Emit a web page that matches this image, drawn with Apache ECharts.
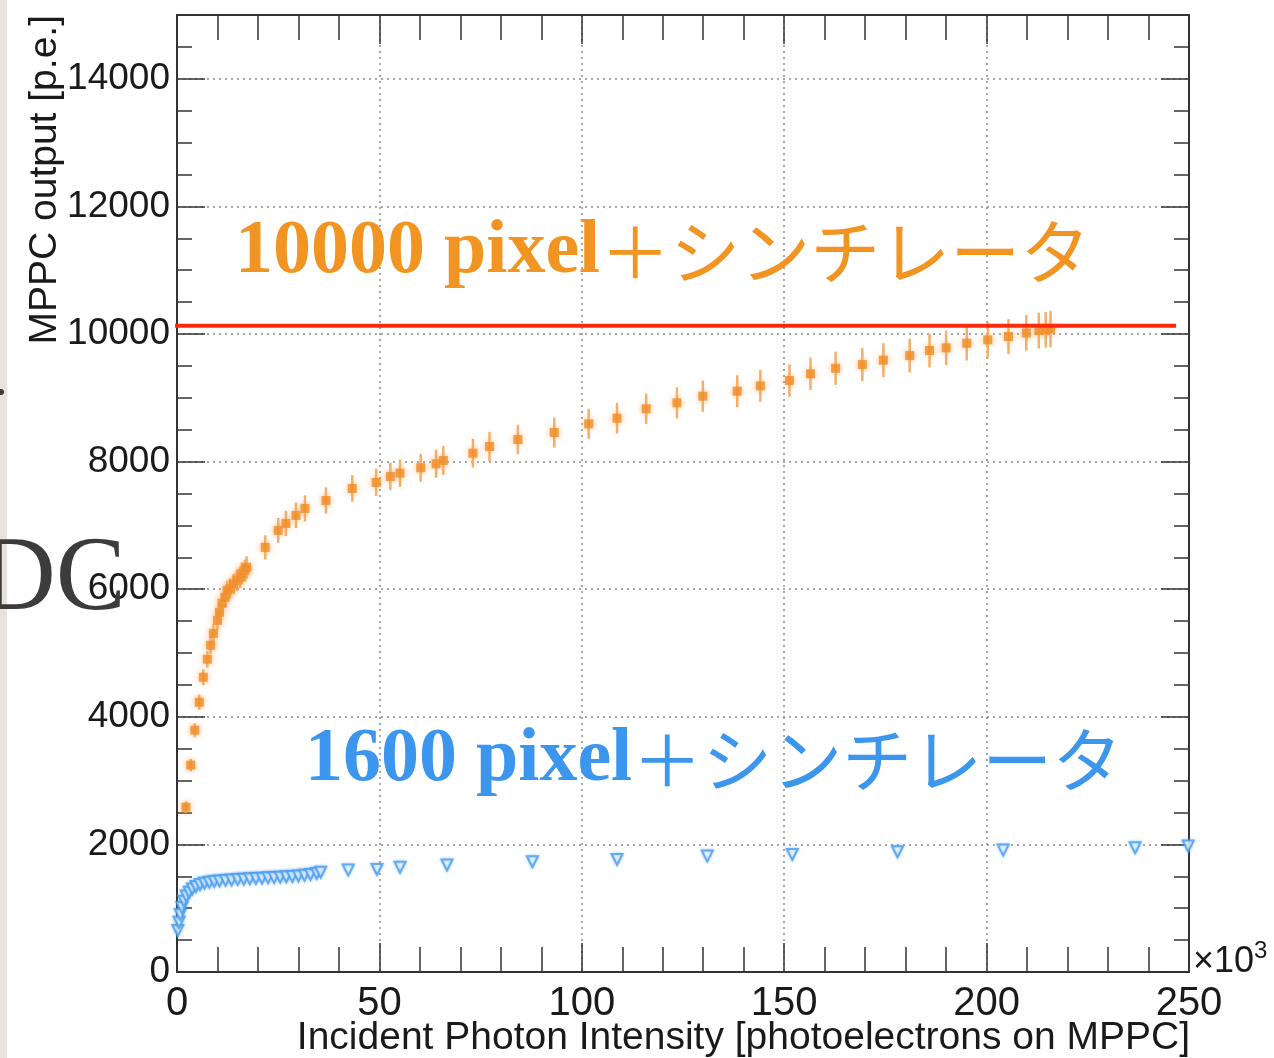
<!DOCTYPE html>
<html>
<head>
<meta charset="utf-8">
<script src="https://cdn.jsdelivr.net/npm/echarts@6/dist/echarts.min.js"></script>
<style>
  html, body { margin: 0; padding: 0; background: #fff; }
  #chart { width: 1274px; height: 1058px; }
</style>
</head>
<body>
<div id="chart"></div>
<script>
// MPPC response: 10000-pixel device with scintillator (x in 10^3 p.e.)
const xPhot10000 = [2.2, 3.4, 4.4, 5.5, 6.5, 7.5, 8.3, 9.0, 10.0, 10.5, 11.1, 11.9, 12.4, 13.1, 14.0, 14.8, 15.6, 16.0, 16.8, 17.2,
  21.8, 25.0, 26.9, 29.4, 31.6, 36.8, 43.3, 49.2, 52.7, 55.1, 60.2, 64.0, 65.8, 73.1, 77.2, 84.2, 93.2, 101.7, 108.7, 115.9,
  123.5, 129.9, 138.4, 144.1, 151.3, 156.5, 162.7, 169.3, 174.5, 181.0, 185.9, 190.0, 195.1, 200.3, 205.4, 209.8, 212.9, 214.6, 215.8];
const yOut10000 = [2584, 3242, 3790, 4228, 4620, 4902, 5121, 5309, 5512, 5638, 5779, 5873, 5982, 6010, 6080, 6139, 6186, 6248, 6295, 6342,
  6655, 6922, 7031, 7157, 7266, 7391, 7579, 7673, 7767, 7819, 7903, 7966, 8018, 8132, 8237, 8347, 8456, 8592, 8680, 8828,
  8921, 9025, 9103, 9188, 9271, 9376, 9463, 9521, 9590, 9662, 9741, 9783, 9855, 9908, 9960, 10017, 10054, 10065, 10080];
const err10000 = [90, 100, 110, 120, 125, 130, 135, 140, 145, 150, 150, 155, 155, 160, 160, 165, 165, 170, 170, 175,
  190, 195, 200, 200, 205, 205, 210, 215, 215, 215, 220, 220, 225, 225, 230, 230, 235, 235, 240, 240,
  245, 245, 250, 250, 255, 255, 260, 260, 265, 265, 265, 270, 270, 275, 275, 280, 280, 280, 285];

// MPPC response: 1600-pixel device with scintillator
const xPhot1600 = [0.2, 0.5, 0.8, 1.2, 1.7, 2.3, 3.0, 3.8, 4.7, 5.7, 6.8, 8.0, 9.2, 10.5, 12.0, 13.5, 15.0, 16.5, 18.0, 19.5,
  21.0, 22.5, 24.0, 25.5, 27.0, 28.5, 30.0, 31.5, 33.0, 34.5, 35.5,
  42.3, 49.4, 55.1, 66.7, 87.8, 108.7, 131.0, 152.0, 178.0, 204.1, 236.7, 249.8];
const yOut1600 = [650, 780, 900, 1010, 1110, 1190, 1250, 1300, 1340, 1370, 1390, 1405, 1418, 1428, 1436, 1443, 1450, 1455, 1460, 1466,
  1471, 1476, 1480, 1486, 1492, 1498, 1505, 1515, 1528, 1545, 1565,
  1597, 1608, 1640, 1676, 1728, 1765, 1817, 1843, 1884, 1911, 1947, 1973];

// Saturation level of the 10000-pixel device
const satLevel = 10130;
const satLineX = [-5.4, 246.8];

// Axis ranges
const xRange = [0, 250], xStep = 50;
const yRange = [0, 15000], yStep = 2000;

const labelFont = 'Liberation Sans, Arial, Helvetica, sans-serif';
const axisColor = '#333';

function axisBase(extra) {
  return Object.assign({
    type: 'value',
    axisLine: { show: true, onZero: false, lineStyle: { color: axisColor, width: 2 } },
    axisTick: { show: true, inside: true, length: 29, lineStyle: { color: axisColor, width: 1.5 } },
    minorTick: { show: true, length: 25, lineStyle: { color: axisColor, width: 1.5 } },
    splitLine: { show: false },
    minorSplitLine: { show: false }
  }, extra);
}

const chart = echarts.init(document.getElementById('chart'), null, { renderer: 'canvas' });

const option = {
  animation: false,
  backgroundColor: '#ffffff',
  grid: { left: 177, right: 85, top: 15, bottom: 86, containLabel: false },
  xAxis: [
    axisBase({
      position: 'bottom', min: xRange[0], max: xRange[1], interval: xStep,
      minorTick: { show: true, splitNumber: 5, length: 25, lineStyle: { color: axisColor, width: 1.5 } },
      splitLine: { show: true, lineStyle: { color: '#8a8a8a', width: 1.5, type: [2, 4] } },
      axisLabel: { fontFamily: labelFont, fontSize: 40, color: '#1a1a1a', margin: 12, formatter: v => String(v) }
    }),
    axisBase({
      position: 'top', min: xRange[0], max: xRange[1], interval: xStep,
      minorTick: { show: true, splitNumber: 5, length: 25, lineStyle: { color: axisColor, width: 1.5 } },
      axisLabel: { show: false }
    })
  ],
  yAxis: [
    axisBase({
      position: 'left', min: yRange[0], max: yRange[1], interval: yStep,
      axisTick: { show: true, inside: true, length: 28, lineStyle: { color: axisColor, width: 1.5 } },
      minorTick: { show: true, splitNumber: 4, length: 15, lineStyle: { color: axisColor, width: 1.5 } },
      splitLine: { show: true, lineStyle: { color: '#8a8a8a', width: 1.5, type: [2, 4] } },
      axisLabel: {
        fontFamily: labelFont, fontSize: 37, color: '#1a1a1a', margin: 7,
        showMaxLabel: false,
        formatter: v => (v % yStep === 0 ? String(v) : '')
      }
    }),
    axisBase({
      position: 'right', min: yRange[0], max: yRange[1], interval: yStep,
      axisTick: { show: true, inside: true, length: 28, lineStyle: { color: axisColor, width: 1.5 } },
      minorTick: { show: true, splitNumber: 4, length: 15, lineStyle: { color: axisColor, width: 1.5 } },
      axisLabel: { show: false }
    })
  ],
  series: [
    {
      name: '1600 pixel',
      type: 'scatter',
      data: xPhot1600.map((x, i) => [x, yOut1600[i]]),
      symbol: 'triangle',
      symbolRotate: 180,
      symbolSize: 11,
      itemStyle: { color: '#ffffff', borderColor: '#4a9df0', borderWidth: 2, shadowBlur: 3, shadowColor: 'rgba(74,157,240,0.6)' },
      clip: false,
      z: 3
    },
    {
      name: '10000 pixel error',
      type: 'custom',
      data: xPhot10000.map((x, i) => [x, yOut10000[i], err10000[i]]),
      encode: { x: 0, y: 1 },
      renderItem: function (params, api) {
        const x = api.value(0), y = api.value(1), e = api.value(2);
        const lo = api.coord([x, y - e]);
        const hi = api.coord([x, y + e]);
        return {
          type: 'line',
          shape: { x1: lo[0], y1: lo[1], x2: hi[0], y2: hi[1] },
          style: { stroke: '#f7ae66', lineWidth: 2.5 }
        };
      },
      z: 3
    },
    {
      name: '10000 pixel',
      type: 'scatter',
      data: xPhot10000.map((x, i) => [x, yOut10000[i]]),
      symbol: 'rect',
      symbolSize: 9,
      itemStyle: { color: '#f08c25', shadowBlur: 6, shadowColor: 'rgba(246,166,90,0.95)' },
      z: 4
    },
    {
      name: 'saturation',
      type: 'line',
      data: satLineX.map(x => [x, satLevel]),
      showSymbol: false,
      symbol: 'none',
      clip: false,
      lineStyle: { color: '#ff2a0c', width: 4 },
      z: 5
    }
  ],
  graphic: [
    // slide background strip and lettering behind the plot
    { type: 'rect', left: 0, top: 0, shape: { width: 7, height: 1058 }, style: { fill: '#e6e3de' }, z: 0 },
    {
      type: 'text', x: -20, y: 634, z: 1,
      style: { text: 'DC', font: '105px "Liberation Serif", "Times New Roman", serif', fill: '#3c3c3c', textVerticalAlign: 'bottom', textAlign: 'left' }
    },
    { type: 'circle', shape: { cx: 1, cy: 392, r: 3 }, style: { fill: '#3c3c3c' }, z: 1 },
    // axis titles
    {
      type: 'text', x: 45, y: 15, rotation: Math.PI / 2, z: 10,
      style: { text: 'MPPC output [p.e.]', font: '39px "Liberation Sans", Arial, sans-serif', fill: '#1a1a1a', textAlign: 'right', textVerticalAlign: 'middle' }
    },
    {
      type: 'text', x: 1190, y: 1038, z: 10,
      style: { text: 'Incident Photon Intensity [photoelectrons on MPPC]', font: '39px "Liberation Sans", Arial, sans-serif', fill: '#1a1a1a', textAlign: 'right', textVerticalAlign: 'middle' }
    },
    {
      type: 'text', x: 1193, y: 962, z: 10,
      style: {
        text: '{m|×10}{s|3}',
        textVerticalAlign: 'middle', textAlign: 'left',
        rich: {
          m: { fontFamily: labelFont, fontSize: 36, fill: '#1a1a1a', color: '#1a1a1a' },
          s: { fontFamily: labelFont, fontSize: 24, fill: '#1a1a1a', color: '#1a1a1a', verticalAlign: 'top', padding: [0, 0, 22, 0] }
        }
      }
    },
    // series annotations
    {
      type: 'text', x: 235, y: 252, z: 10,
      style: {
        text: '{a|10000 pixel}{b|＋シンチレータ}',
        textVerticalAlign: 'middle', textAlign: 'left',
        rich: {
          a: { fontFamily: '"Liberation Serif", "Times New Roman", serif', fontSize: 76, fontWeight: 'bold', color: '#f29422', fill: '#f29422' },
          b: { fontFamily: '"Noto Sans CJK JP", sans-serif', fontSize: 70, color: '#f29422', fill: '#f29422' }
        }
      }
    },
    {
      type: 'text', x: 305, y: 760, z: 10,
      style: {
        text: '{a|1600 pixel}{b|＋シンチレータ}',
        textVerticalAlign: 'middle', textAlign: 'left',
        rich: {
          a: { fontFamily: '"Liberation Serif", "Times New Roman", serif', fontSize: 76, fontWeight: 'bold', color: '#3d96ee', fill: '#3d96ee' },
          b: { fontFamily: '"Noto Sans CJK JP", sans-serif', fontSize: 70, color: '#3d96ee', fill: '#3d96ee' }
        }
      }
    }
  ]
};

chart.setOption(option);
</script>
</body>
</html>
